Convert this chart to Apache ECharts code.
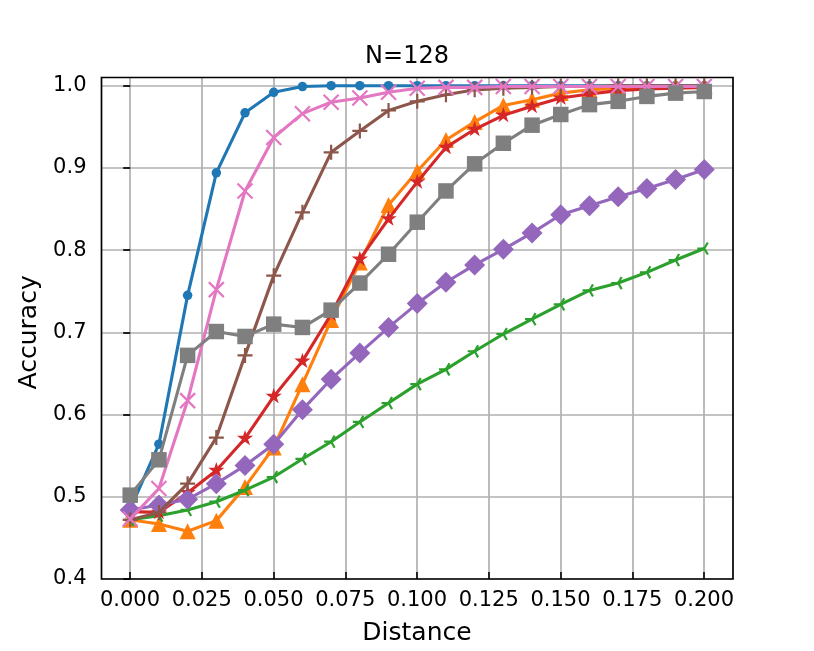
<!DOCTYPE html>
<html>
<head>
<meta charset="utf-8">
<script src="https://cdn.jsdelivr.net/npm/echarts@6/dist/echarts.min.js"></script>
<style>
html,body{margin:0;padding:0;background:#fff;}
#chart{width:814px;height:651px;}
</style>
</head>
<body>
<div id="chart"></div>
<script>
const titleText = 'N=128';
const xName = 'Distance';
const yName = 'Accuracy';
const distances = [0.00,0.01,0.02,0.03,0.04,0.05,0.06,0.07,0.08,0.09,0.10,0.11,0.12,0.13,0.14,0.15,0.16,0.17,0.18,0.19,0.20];
const xTicks = [0.000,0.025,0.050,0.075,0.100,0.125,0.150,0.175,0.200];
const yTicks = [0.4,0.5,0.6,0.7,0.8,0.9,1.0];

const blueVals   = [0.485,0.564,0.745,0.894,0.967,0.992,0.999,1.000,1.000,1.000,1.000,1.000,1.000,1.000,1.000,1.000,1.000,1.000,1.000,1.000,1.000];
const orangeVals = [0.472,0.467,0.458,0.471,0.512,0.560,0.637,0.715,0.785,0.855,0.896,0.934,0.956,0.976,0.983,0.991,0.995,0.997,0.998,0.999,0.999];
const greenVals  = [0.472,0.477,0.484,0.494,0.508,0.524,0.546,0.567,0.591,0.614,0.637,0.655,0.677,0.698,0.716,0.734,0.751,0.760,0.773,0.788,0.802];
const redVals    = [0.482,0.481,0.505,0.532,0.571,0.622,0.665,0.722,0.789,0.838,0.883,0.925,0.947,0.964,0.975,0.985,0.990,0.994,0.996,0.997,0.998];
const purpleVals = [0.484,0.490,0.497,0.516,0.538,0.564,0.606,0.643,0.675,0.706,0.735,0.761,0.782,0.801,0.821,0.843,0.854,0.865,0.875,0.886,0.898];
const brownVals  = [0.472,0.481,0.516,0.572,0.672,0.769,0.846,0.919,0.945,0.970,0.981,0.989,0.995,0.997,0.998,0.999,0.999,1.000,1.000,1.000,1.000];
const pinkVals   = [0.473,0.510,0.617,0.752,0.872,0.937,0.966,0.980,0.985,0.992,0.997,0.998,0.998,0.999,0.999,0.999,0.999,0.999,0.999,0.999,0.999];
const grayVals   = [0.502,0.545,0.672,0.701,0.695,0.710,0.706,0.727,0.760,0.795,0.834,0.872,0.905,0.930,0.952,0.965,0.977,0.981,0.987,0.991,0.993];

const seriesNames = ['s0','s1','s2','s3','s4','s5','s6','s7'];
const seriesVals = [blueVals, orangeVals, greenVals, redVals, purpleVals, brownVals, pinkVals, grayVals];
const colors = ['#1f77b4','#ff7f0e','#2ca02c','#d62728','#9467bd','#8c564b','#e377c2','#7f7f7f'];

const STAR = 'path://M-1,-1 M1,1 M0,-1 L0.2245,-0.309 L0.951,-0.309 L0.3633,0.118 L0.5878,0.809 L0,0.382 L-0.5878,0.809 L-0.3633,0.118 L-0.951,-0.309 L-0.2245,-0.309 Z';
const TRI_LEFT = 'path://M-1,-1 M1,1 M0,0 L-1,0 M0,0 L0.5,-0.866 M0,0 L0.5,0.866';
const PLUS = 'path://M-1,0 L1,0 M0,-1 L0,1';
const CROSS = 'path://M-1,-1 L1,1 M-1,1 L1,-1';
const markers = [
  {symbol:'circle', size:9.5, stroke:false},
  {symbol:'triangle', size:16, stroke:false},
  {symbol:TRI_LEFT, size:14, stroke:true},
  {symbol:STAR, size:17, stroke:false},
  {symbol:'diamond', size:21, stroke:false},
  {symbol:PLUS, size:15, stroke:true},
  {symbol:CROSS, size:15, stroke:true},
  {symbol:'rect', size:15.5, stroke:false}
];

const FONT = 'DejaVu Sans';
const L = 101.5, R = 81, T = 77.5, B = 72;
const X0PX = 130, X1PX = 704, Y1PX = 85.7;

const series = seriesVals.map((vals, i) => {
  const m = markers[i];
  return {
    name: seriesNames[i],
    type: 'line',
    xAxisIndex: 0,
    yAxisIndex: 0,
    z: 2 + i,
    data: distances.map((d, j) => [d, vals[j]]),
    symbol: m.symbol,
    symbolSize: m.size,
    showSymbol: true,
    showAllSymbol: true,
    clip: false,
    lineStyle: {color: colors[i], width: 3.1},
    itemStyle: m.stroke ? {color: colors[i], borderColor: colors[i], borderWidth: 2.2} : {color: colors[i], borderWidth: 0},
    emphasis: {disabled: true}
  };
});

const chart = echarts.init(document.getElementById('chart'), null, {renderer: 'canvas'});
chart.setOption({
  animation: false,
  backgroundColor: '#ffffff',
  textStyle: {fontFamily: FONT},
  title: {
    text: titleText, left: 'center', top: 40,
    textStyle: {fontFamily: FONT, fontSize: 24, fontWeight: 'normal', color: '#000'}
  },
  grid: [
    {left: L, right: R, top: T, bottom: B, show: true, borderColor: '#000', borderWidth: 1.7, backgroundColor: 'transparent', z: 5},
    {left: X0PX, right: 814 - X1PX, top: T, bottom: B, show: false},
    {left: L, right: R, top: Y1PX, bottom: B, show: false}
  ],
  xAxis: [
    {gridIndex: 0, type: 'value', min: -0.01, max: 0.21, show: false},
    {gridIndex: 1, type: 'value', min: xTicks[0], max: xTicks[xTicks.length - 1], interval: 0.025,
     axisLine: {show: false},
     axisTick: {show: true, length: 7, lineStyle: {color: '#000', width: 1.7}},
     axisLabel: {show: true, margin: 18, fontFamily: FONT, fontSize: 21, color: '#000', formatter: v => v.toFixed(3)},
     splitLine: {show: true, lineStyle: {color: '#b0b0b0', width: 1.7}},
     name: xName, nameLocation: 'middle', nameGap: 49,
     nameTextStyle: {fontFamily: FONT, fontSize: 25, color: '#000'}},
    {gridIndex: 2, type: 'value', min: -0.01, max: 0.21, show: false}
  ],
  yAxis: [
    {gridIndex: 0, type: 'value', min: 0.4, max: 1.01, show: false},
    {gridIndex: 1, type: 'value', min: 0.4, max: 1.01, show: false},
    {gridIndex: 2, type: 'value', min: yTicks[0], max: yTicks[yTicks.length - 1], interval: 0.1,
     axisLine: {show: false},
     axisTick: {show: true, length: 7, lineStyle: {color: '#000', width: 1.7}},
     axisLabel: {show: true, margin: 15, fontFamily: FONT, fontSize: 21, color: '#000', formatter: v => v.toFixed(1)},
     splitLine: {show: true, lineStyle: {color: '#b0b0b0', width: 1.7}},
     name: yName, nameLocation: 'middle', nameGap: 56, nameRotate: 90,
     nameTextStyle: {fontFamily: FONT, fontSize: 25, color: '#000'}}
  ],
  series: series
});
</script>
</body>
</html>
